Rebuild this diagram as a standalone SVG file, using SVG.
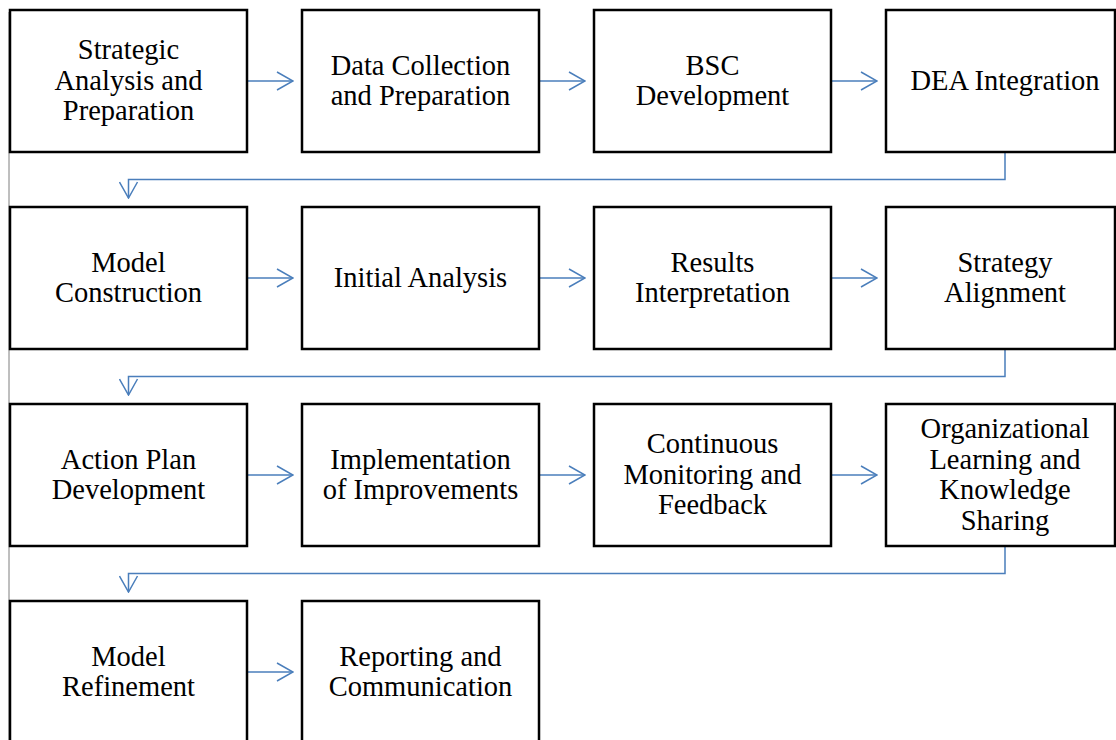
<svg xmlns="http://www.w3.org/2000/svg" width="1116" height="740" viewBox="0 0 1116 740">
<style>
.box{fill:#ffffff;stroke:#000000;stroke-width:2.5}
.lbl{font-family:"Liberation Serif","Times New Roman",serif;font-size:28.5px;fill:#000000;text-anchor:middle}
.con{fill:none;stroke:#4a7ebb;stroke-width:1.5}
</style>
<defs>
<marker id="arr" markerUnits="userSpaceOnUse" viewBox="0 0 18 20" refX="17" refY="10" markerWidth="18" markerHeight="20" orient="auto">
<path d="M1,1 L17,10 L1,19" fill="none" stroke="#4a7ebb" stroke-width="1.5"/>
</marker>
</defs>
<rect width="1116" height="740" fill="#ffffff"/>
<line x1="9" y1="12" x2="9" y2="740" stroke="#7f7f7f" stroke-width="1"/>
<g id="connectors">
<line class="con" x1="247" y1="81" x2="293" y2="81" marker-end="url(#arr)"/>
<line class="con" x1="539" y1="81" x2="585" y2="81" marker-end="url(#arr)"/>
<line class="con" x1="831" y1="81" x2="877" y2="81" marker-end="url(#arr)"/>
<path class="con" d="M1005,152 V179.5 H128.5 V198" marker-end="url(#arr)"/>
<line class="con" x1="247" y1="278" x2="293" y2="278" marker-end="url(#arr)"/>
<line class="con" x1="539" y1="278" x2="585" y2="278" marker-end="url(#arr)"/>
<line class="con" x1="831" y1="278" x2="877" y2="278" marker-end="url(#arr)"/>
<path class="con" d="M1005,349 V376.5 H128.5 V395" marker-end="url(#arr)"/>
<line class="con" x1="247" y1="475" x2="293" y2="475" marker-end="url(#arr)"/>
<line class="con" x1="539" y1="475" x2="585" y2="475" marker-end="url(#arr)"/>
<line class="con" x1="831" y1="475" x2="877" y2="475" marker-end="url(#arr)"/>
<path class="con" d="M1005,546 V573.5 H128.5 V592" marker-end="url(#arr)"/>
<line class="con" x1="247" y1="672" x2="293" y2="672" marker-end="url(#arr)"/>
</g>
<g id="n1"><rect class="box" x="10" y="10" width="237" height="142"/>
<text class="lbl" x="128.5"><tspan x="128.5" y="59.2">Strategic</tspan><tspan x="128.5" y="89.7">Analysis and</tspan><tspan x="128.5" y="120.2">Preparation</tspan></text></g>
<g id="n2"><rect class="box" x="302" y="10" width="237" height="142"/>
<text class="lbl"><tspan x="420.5" y="74.5">Data Collection</tspan><tspan x="420.5" y="105">and Preparation</tspan></text></g>
<g id="n3"><rect class="box" x="594" y="10" width="237" height="142"/>
<text class="lbl"><tspan x="712.5" y="74.5">BSC</tspan><tspan x="712.5" y="105">Development</tspan></text></g>
<g id="n4"><rect class="box" x="886" y="10" width="229" height="142"/>
<text class="lbl"><tspan x="1005" y="89.7">DEA Integration</tspan></text></g>
<g id="n5"><rect class="box" x="10" y="207" width="237" height="142"/>
<text class="lbl"><tspan x="128.5" y="271.5">Model</tspan><tspan x="128.5" y="302">Construction</tspan></text></g>
<g id="n6"><rect class="box" x="302" y="207" width="237" height="142"/>
<text class="lbl"><tspan x="420.5" y="286.7">Initial Analysis</tspan></text></g>
<g id="n7"><rect class="box" x="594" y="207" width="237" height="142"/>
<text class="lbl"><tspan x="712.5" y="271.5">Results</tspan><tspan x="712.5" y="302">Interpretation</tspan></text></g>
<g id="n8"><rect class="box" x="886" y="207" width="229" height="142"/>
<text class="lbl"><tspan x="1005" y="271.5">Strategy</tspan><tspan x="1005" y="302">Alignment</tspan></text></g>
<g id="n9"><rect class="box" x="10" y="404" width="237" height="142"/>
<text class="lbl"><tspan x="128.5" y="468.5">Action Plan</tspan><tspan x="128.5" y="499">Development</tspan></text></g>
<g id="n10"><rect class="box" x="302" y="404" width="237" height="142"/>
<text class="lbl"><tspan x="420.5" y="468.5">Implementation</tspan><tspan x="420.5" y="499">of Improvements</tspan></text></g>
<g id="n11"><rect class="box" x="594" y="404" width="237" height="142"/>
<text class="lbl"><tspan x="712.5" y="453.2">Continuous</tspan><tspan x="712.5" y="483.7">Monitoring and</tspan><tspan x="712.5" y="514.2">Feedback</tspan></text></g>
<g id="n12"><rect class="box" x="886" y="404" width="229" height="142"/>
<text class="lbl"><tspan x="1005" y="438">Organizational</tspan><tspan x="1005" y="468.5">Learning and</tspan><tspan x="1005" y="499">Knowledge</tspan><tspan x="1005" y="529.5">Sharing</tspan></text></g>
<g id="n13"><rect class="box" x="10" y="601" width="237" height="142"/>
<text class="lbl"><tspan x="128.5" y="665.5">Model</tspan><tspan x="128.5" y="696">Refinement</tspan></text></g>
<g id="n14"><rect class="box" x="302" y="601" width="237" height="142"/>
<text class="lbl"><tspan x="420.5" y="665.5">Reporting and</tspan><tspan x="420.5" y="696">Communication</tspan></text></g>
</svg>
